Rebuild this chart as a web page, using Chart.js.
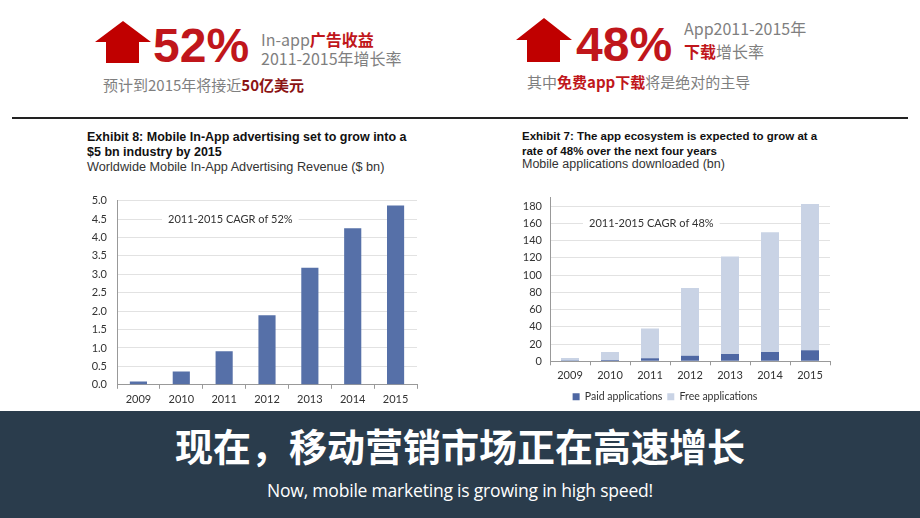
<!DOCTYPE html>
<html>
<head>
<meta charset="utf-8">
<script src="https://cdn.jsdelivr.net/npm/chart.js@4"></script>
<style>
  body { margin: 0; width: 920px; height: 518px; background: #fff; position: relative; overflow: hidden; font-family: "Noto Sans CJK SC", "Noto Sans", sans-serif; }
  .abs { position: absolute; white-space: nowrap; }
  .big { font-family: "Liberation Sans", Arial, sans-serif; font-weight: bold; font-size: 48px; color: #c0161b; line-height: 1; }
  .gray { color: #7f7f7f; font-size: 16px; line-height: 1; }
  .red { color: #c0161b; font-weight: bold; }
  .dark { color: #8b1414; font-weight: bold; }
  .ttl { font-family: "Liberation Sans", Arial, sans-serif; font-size: 11.5px; color: #111; line-height: 15px; }
  .ttl b { font-weight: bold; }
  .rule { position: absolute; left: 12px; top: 117px; width: 896px; height: 2px; background: #222; }
  .banner { position: absolute; left: 0; top: 411px; width: 920px; height: 107px; background: #2a3c4c; }
  canvas { position: absolute; }
</style>
</head>
<body>
<svg class="abs" style="left:93px;top:21px" width="60" height="44" viewBox="0 0 60 44">
  <polygon points="30,0 58,21 46,21 46,42 13,42 13,21 2,21" fill="#c00000"/>
</svg>
<div class="abs big" style="left:153px;top:22px">52%</div>
<div class="abs gray" style="left:261px;top:31px">In-app<span class="red">广告收益</span></div>
<div class="abs gray" style="left:261px;top:50px">2011-2015年增长率</div>
<div class="abs gray" style="left:103px;top:77px;font-size:15px">预计到2015年将接近<span class="dark">50亿美元</span></div>

<svg class="abs" style="left:514px;top:18px" width="60" height="46" viewBox="0 0 60 46">
  <polygon points="30,0 58,22 46,22 46,44 13,44 13,22 2,22" fill="#c00000"/>
</svg>
<div class="abs big" style="left:576px;top:21px">48%</div>
<div class="abs gray" style="left:684px;top:20px">App2011-2015年</div>
<div class="abs gray" style="left:684px;top:43px"><span class="red">下载</span>增长率</div>
<div class="abs gray" style="left:527px;top:74px;font-size:15px">其中<span class="red">免费app下载</span>将是绝对的主导</div>

<div class="rule"></div>

<div class="abs ttl" style="left:87px;top:130px;font-size:12.5px"><b>Exhibit 8: Mobile In-App advertising set to grow into a<br>$5 bn industry by 2015</b></div>
<div class="abs ttl" style="left:87px;top:160px;font-size:12.7px;color:#333">Worldwide Mobile In-App Advertising Revenue ($ bn)</div>

<div class="abs ttl" style="left:522px;top:129px"><b>Exhibit 7: The app ecosystem is expected to grow at a<br>rate of 48% over the next four years</b></div>
<div class="abs ttl" style="left:522px;top:157px;font-size:12.5px;color:#333">Mobile applications downloaded (bn)</div>

<canvas id="adChart" width="345" height="226" style="left:80px;top:184px"></canvas>
<canvas id="appChart" width="340" height="229" style="left:500px;top:183px"></canvas>

<div class="banner"></div>
<div class="abs" style="left:0;top:426px;width:920px;text-align:center;color:#fff;font-weight:bold;font-size:38px;line-height:1">现在，移动营销市场正在高速增长</div>
<div class="abs" style="left:0;top:482px;width:920px;text-align:center;color:#fff;font-family:'Open Sans',sans-serif;font-size:17.5px;line-height:1;letter-spacing:-0.2px">Now, mobile marketing is growing in high speed!</div>

<script>
const years = ['2009', '2010', '2011', '2012', '2013', '2014', '2015'];
const adRevenue = [0.09, 0.36, 0.91, 1.89, 3.18, 4.25, 4.87];
const paidApps = [0.4, 1.5, 3.4, 6.4, 8.6, 10.9, 12.7];
const freeApps = [3.3, 9.4, 34.6, 78.6, 113, 139, 170];
const appTicks = [0, 20, 40, 60, 80, 100, 120, 140, 160, 180];
const adNote = '2011-2015 CAGR of 52%';
const appNote = '2011-2015 CAGR of 48%';

const tickFont = { family: 'Lato', size: 11 };

// note text sitting on a gridline, with white behind it
function notePlugin(text, xOff, yVal) {
  return {
    id: 'note',
    afterDatasetsDraw(chart) {
      const c = chart.ctx;
      const x = chart.chartArea.left + xOff;
      const y = chart.scales.y.getPixelForValue(yVal);
      c.save();
      c.font = '11px Lato';
      const w = c.measureText(text).width;
      c.fillStyle = '#fff';
      c.fillRect(x - 6, y - 7, w + 12, 14);
      c.fillStyle = '#333';
      c.textBaseline = 'middle';
      c.fillText(text, x, y);
      c.restore();
    }
  };
}

new Chart(document.getElementById('adChart'), {
  type: 'bar',
  data: {
    labels: years,
    datasets: [{ data: adRevenue, backgroundColor: '#5670a8', barPercentage: 0.4, categoryPercentage: 1 }]
  },
  options: {
    responsive: false,
    animation: false,
    layout: { padding: { top: 10, right: 8 } },
    plugins: { legend: { display: false }, tooltip: { enabled: false } },
    scales: {
      x: {
        grid: { offset: true, drawOnChartArea: false, tickLength: 4, color: '#999' },
        border: { color: '#999' },
        ticks: { font: tickFont, color: '#333', padding: 4 }
      },
      y: {
        min: 0, max: 5,
        afterFit(s) { s.width = 37; },
        grid: { color: '#e2e2e2', drawTicks: false },
        border: { color: '#999' },
        ticks: { stepSize: 0.5, autoSkip: false, font: tickFont, color: '#333', padding: 10, callback: v => v.toFixed(1) }
      }
    }
  },
  plugins: [notePlugin(adNote, 51, 4.5)]
});

new Chart(document.getElementById('appChart'), {
  type: 'bar',
  data: {
    labels: years,
    datasets: [
      { label: 'Paid applications', data: paidApps, backgroundColor: '#4e67a3', barPercentage: 0.45, categoryPercentage: 1 },
      { label: 'Free applications', data: freeApps, backgroundColor: '#c9d3e5', barPercentage: 0.45, categoryPercentage: 1 }
    ]
  },
  options: {
    responsive: false,
    animation: false,
    layout: { padding: { top: 10, right: 10 } },
    plugins: {
      legend: {
        position: 'bottom',
        labels: { boxWidth: 7, boxHeight: 7, padding: 5, font: { family: 'Lato', size: 10.5 }, color: '#333' }
      },
      tooltip: { enabled: false }
    },
    scales: {
      x: {
        stacked: true,
        grid: { offset: true, drawOnChartArea: false, tickLength: 4, color: '#999' },
        border: { color: '#999' },
        ticks: { font: tickFont, color: '#333', padding: 4 }
      },
      y: {
        stacked: true,
        min: 0, max: 190,
        afterFit(s) { s.width = 50; },
        afterBuildTicks(s) { s.ticks = appTicks.map(v => ({ value: v })); },
        grid: { color: '#e2e2e2', drawTicks: false },
        border: { color: '#999' },
        ticks: { autoSkip: false, font: tickFont, color: '#333', padding: 8 }
      }
    }
  },
  plugins: [notePlugin(appNote, 39, 160)]
});
</script>
</body>
</html>
